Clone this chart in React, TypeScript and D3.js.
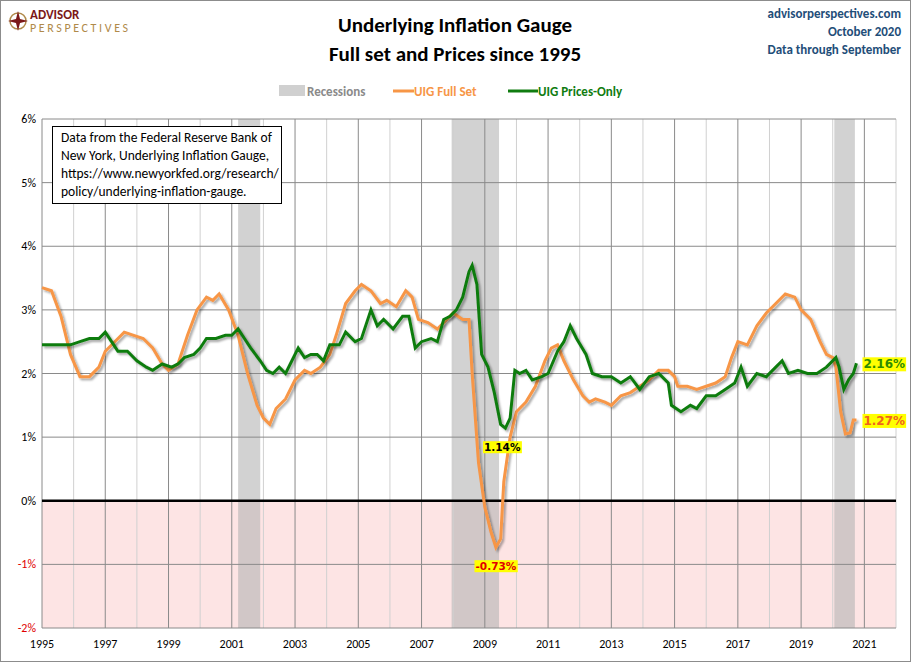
import { useEffect, useRef } from "react";
import * as d3 from "d3";

// UIG Full Set (year fraction, percent)
const fullDates = [1995.0,1995.3,1995.6,1995.9,1996.2,1996.5,1996.8,1997.0,1997.3,1997.6,1997.9,1998.2,1998.5,1998.8,1999.0,1999.3,1999.6,1999.9,2000.2,2000.4,2000.6,2000.9,2001.2,2001.5,2001.8,2002.0,2002.2,2002.4,2002.7,2003.0,2003.3,2003.5,2003.8,2004.1,2004.3,2004.6,2004.9,2005.1,2005.4,2005.7,2005.9,2006.2,2006.5,2006.7,2006.9,2007.2,2007.5,2007.8,2008.0,2008.3,2008.5,2008.6,2008.8,2009.0,2009.2,2009.35,2009.5,2009.6,2009.8,2010.0,2010.3,2010.6,2010.9,2011.1,2011.3,2011.5,2011.8,2012.1,2012.3,2012.5,2012.8,2013.0,2013.3,2013.6,2013.9,2014.2,2014.5,2014.8,2015.0,2015.1,2015.4,2015.7,2016.0,2016.3,2016.6,2016.8,2017.0,2017.3,2017.6,2017.9,2018.2,2018.5,2018.8,2019.0,2019.3,2019.6,2019.8,2020.0,2020.1,2020.25,2020.4,2020.55,2020.65,2020.75];
const fullValues = [3.35,3.3,2.9,2.3,1.95,1.95,2.1,2.35,2.5,2.65,2.6,2.55,2.4,2.15,2.05,2.15,2.6,3.0,3.2,3.15,3.25,3.0,2.6,2.0,1.5,1.3,1.2,1.45,1.6,1.9,2.05,2.0,2.1,2.3,2.6,3.1,3.3,3.4,3.3,3.1,3.15,3.05,3.3,3.2,2.85,2.8,2.7,2.85,2.95,2.85,2.85,2.0,0.6,-0.1,-0.5,-0.73,-0.6,0.3,1.0,1.4,1.55,1.8,2.2,2.4,2.45,2.2,1.9,1.65,1.55,1.6,1.55,1.5,1.65,1.7,1.8,1.9,2.05,2.05,1.95,1.8,1.8,1.75,1.8,1.85,1.95,2.25,2.5,2.45,2.75,2.95,3.1,3.25,3.2,3.0,2.85,2.5,2.3,2.25,2.1,1.4,1.05,1.07,1.27,1.27];

// UIG Prices-Only
const priceDates = [1995.0,1995.3,1995.6,1995.9,1996.2,1996.5,1996.8,1997.0,1997.2,1997.4,1997.7,1998.0,1998.3,1998.5,1998.8,1999.1,1999.3,1999.5,1999.8,2000.0,2000.2,2000.5,2000.8,2001.0,2001.2,2001.4,2001.6,2001.9,2002.1,2002.3,2002.5,2002.7,2002.9,2003.1,2003.3,2003.5,2003.7,2003.9,2004.1,2004.4,2004.6,2004.9,2005.1,2005.4,2005.6,2005.8,2006.1,2006.4,2006.6,2006.8,2007.0,2007.3,2007.5,2007.7,2007.9,2008.1,2008.3,2008.5,2008.6,2008.75,2008.9,2009.1,2009.3,2009.5,2009.65,2009.8,2009.95,2010.1,2010.3,2010.5,2010.8,2011.0,2011.3,2011.5,2011.7,2011.9,2012.2,2012.4,2012.7,2013.0,2013.3,2013.6,2013.9,2014.2,2014.5,2014.8,2014.9,2015.2,2015.5,2015.7,2016.0,2016.3,2016.6,2016.9,2017.1,2017.3,2017.6,2017.9,2018.2,2018.4,2018.6,2018.9,2019.2,2019.5,2019.8,2020.1,2020.2,2020.35,2020.5,2020.65,2020.75];
const priceValues = [2.45,2.45,2.45,2.45,2.5,2.55,2.55,2.65,2.5,2.35,2.35,2.2,2.1,2.05,2.15,2.1,2.15,2.25,2.3,2.4,2.55,2.55,2.6,2.6,2.7,2.55,2.4,2.2,2.05,2.0,2.1,2.0,2.2,2.4,2.25,2.3,2.3,2.2,2.45,2.45,2.65,2.5,2.55,3.0,2.75,2.85,2.7,2.9,2.9,2.4,2.5,2.55,2.5,2.85,2.9,3.0,3.2,3.6,3.7,3.4,2.3,2.1,1.7,1.2,1.14,1.3,2.05,2.0,2.05,1.9,1.95,2.0,2.35,2.5,2.75,2.55,2.3,2.0,1.95,1.95,1.85,1.95,1.75,1.95,2.0,1.85,1.5,1.4,1.5,1.45,1.65,1.65,1.75,1.85,2.1,1.8,2.0,1.95,2.1,2.2,2.0,2.05,2.0,2.0,2.1,2.25,2.1,1.75,1.9,2.0,2.16];

const recessions = [[2001.2, 2001.9], [2007.95, 2009.45], [2020.05, 2020.7]];
const yTicks = [-2, -1, 0, 1, 2, 3, 4, 5, 6];
const xLabelYears = d3.range(1995, 2022, 2);

const W = 911, H = 662;
const left = 42, right = 896, top = 119, bottom = 628;
const font = "Calibri, 'Liberation Sans', 'DejaVu Sans', sans-serif";

export default function App() {
  const ref = useRef<SVGSVGElement>(null);
  useEffect(() => {
    const svg = d3.select(ref.current);
    svg.selectAll("*").remove();
    const x = d3.scaleLinear().domain([1995, 2022]).range([left, right]);
    const y = d3.scaleLinear().domain([-2, 6]).range([bottom, top]);

    const defs = svg.append("defs");
    const f = defs.append("filter").attr("id", "sh").attr("x", "-5%").attr("y", "-5%").attr("width", "110%").attr("height", "110%");
    f.append("feDropShadow").attr("dx", 2).attr("dy", 2).attr("stdDeviation", 1.2).attr("flood-color", "#000").attr("flood-opacity", 0.35);

    svg.append("rect").attr("x", 0.5).attr("y", 0.5).attr("width", W - 1).attr("height", H - 1).attr("fill", "#fff").attr("stroke", "#8c8c8c");

    // negative zone
    svg.append("rect").attr("x", left).attr("y", y(0)).attr("width", right - left).attr("height", y(-2) - y(0)).attr("fill", "#fde4e4");

    // recessions
    svg.append("g").selectAll("rect").data(recessions).enter().append("rect")
      .attr("x", d => x(d[0])).attr("width", d => x(d[1]) - x(d[0]))
      .attr("y", top).attr("height", bottom - top).attr("fill", "#b4b4b4").attr("opacity", 0.6);

    // grid
    const g = svg.append("g");
    d3.range(1995, 2023).forEach(yr => {
      g.append("line").attr("x1", x(yr)).attr("x2", x(yr)).attr("y1", top).attr("y2", bottom)
        .attr("stroke", (yr - 1995) % 2 === 0 ? "#8a8a8a" : "#d0d0d0").attr("stroke-width", 1);
    });
    yTicks.forEach(t => {
      g.append("line").attr("x1", left).attr("x2", right).attr("y1", y(t)).attr("y2", y(t))
        .attr("stroke", t === 0 ? "#000" : "#8a8a8a").attr("stroke-width", t === 0 ? 2.5 : 1);
      g.append("text").attr("x", left - 6).attr("y", y(t) + 4).attr("text-anchor", "end")
        .attr("font-family", font).attr("font-size", 12).attr("fill", t < 0 ? "#e00000" : "#000").text(t + "%");
    });
    xLabelYears.forEach(yr => {
      g.append("text").attr("x", x(yr)).attr("y", bottom + 20).attr("text-anchor", "middle")
        .attr("font-family", font).attr("font-size", 12).attr("fill", "#000").text(yr);
    });

    const line = d3.line<[number, number]>().x(d => x(d[0])).y(d => y(d[1]));
    const full = fullDates.map((d, i) => [d, fullValues[i]] as [number, number]);
    const price = priceDates.map((d, i) => [d, priceValues[i]] as [number, number]);
    svg.append("path").attr("d", line(full)).attr("fill", "none").attr("stroke", "#f79646").attr("stroke-width", 3).attr("filter", "url(#sh)");
    svg.append("path").attr("d", line(price)).attr("fill", "none").attr("stroke", "#107c10").attr("stroke-width", 3).attr("filter", "url(#sh)");

    // value labels
    const label = (xv: number, yv: number, txt: string, color: string, size: number, anchor = "start") => {
      const t = svg.append("text").attr("x", xv).attr("y", yv).attr("font-family", "'DejaVu Sans', Verdana, sans-serif")
        .attr("font-size", size).attr("font-weight", "bold").attr("fill", color).attr("text-anchor", anchor).text(txt);
      const b = (t.node() as SVGTextElement).getBBox();
      svg.insert("rect", () => t.node()).attr("x", b.x - 1).attr("y", b.y).attr("width", b.width + 2).attr("height", b.height).attr("fill", "#ffff00");
    };
    label(x(2009.55), y(1.14) + 23, "1.14%", "#000", 10.5, "middle");
    label(x(2009.35), y(-0.73) + 23, "-0.73%", "#e00000", 10.5, "middle");
    label(x(2020.75) + 7, y(2.16) + 5, "2.16%", "#2e8b00", 12);
    label(x(2020.75) + 7, y(1.27) + 5, "1.27%", "#f0641e", 12);

    // note box
    svg.append("rect").attr("x", 52.5).attr("y", 126.5).attr("width", 229).attr("height", 77).attr("fill", "#fff").attr("stroke", "#000");
    ["Data from the Federal Reserve Bank of", "New York, Underlying Inflation Gauge,", "https://www.newyorkfed.org/research/", "policy/underlying-inflation-gauge."]
      .forEach((s, i) => svg.append("text").attr("x", 61).attr("y", 142 + i * 18).attr("font-family", font).attr("font-size", 13.5).attr("fill", "#000").text(s));

    // titles
    svg.append("text").attr("x", 455).attr("y", 32).attr("text-anchor", "middle").attr("font-family", font).attr("font-size", 21).attr("font-weight", "bold").text("Underlying Inflation Gauge");
    svg.append("text").attr("x", 455).attr("y", 61).attr("text-anchor", "middle").attr("font-family", font).attr("font-size", 21).attr("font-weight", "bold").text("Full set and Prices since 1995");
    ["advisorperspectives.com", "October 2020", "Data through September"].forEach((s, i) =>
      svg.append("text").attr("x", 901).attr("y", 18 + i * 18).attr("text-anchor", "end").attr("font-family", font).attr("font-size", 13).attr("font-weight", "bold").attr("fill", "#1f4e79").text(s));

    // logo
    const lg = svg.append("g").attr("transform", "translate(18,21)");
    lg.append("circle").attr("r", 8).attr("fill", "none").attr("stroke", "#b08a4a").attr("stroke-width", 1.5);
    lg.append("path").attr("d", "M0,-10 L2,-2 L10,0 L2,2 L0,10 L-2,2 L-10,0 L-2,-2Z").attr("fill", "#7b1818");
    svg.append("text").attr("x", 30).attr("y", 19).attr("font-family", font).attr("font-size", 13).attr("font-weight", "bold").attr("fill", "#7b1818").text("ADVISOR");
    svg.append("text").attr("x", 30).attr("y", 32).attr("font-family", font).attr("font-size", 12).attr("fill", "#b08a4a").attr("textLength", 98).text("PERSPECTIVES");

    // legend
    const leg = svg.append("g").attr("font-family", font).attr("font-size", 13).attr("font-weight", "bold");
    leg.append("rect").attr("x", 279).attr("y", 85).attr("width", 26).attr("height", 11).attr("fill", "#d0d0d0");
    leg.append("text").attr("x", 307).attr("y", 96).attr("fill", "#8a8a8a").text("Recessions");
    leg.append("line").attr("x1", 393).attr("x2", 414).attr("y1", 91).attr("y2", 91).attr("stroke", "#f79646").attr("stroke-width", 3);
    leg.append("text").attr("x", 414).attr("y", 96).attr("fill", "#f79646").text("UIG Full Set");
    leg.append("line").attr("x1", 508).attr("x2", 538).attr("y1", 91).attr("y2", 91).attr("stroke", "#107c10").attr("stroke-width", 3);
    leg.append("text").attr("x", 538).attr("y", 96).attr("fill", "#107c10").text("UIG Prices-Only");
  }, []);
  return <svg ref={ref} width={W} height={H} style={{ position: "absolute", left: 0, top: 0 }} />;
}
